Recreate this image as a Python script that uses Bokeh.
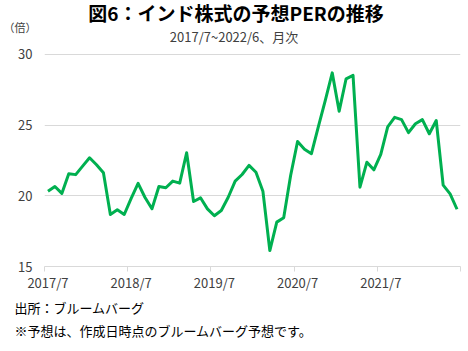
from bokeh.plotting import figure
from bokeh.models import FixedTicker, Label, Range1d, Title, LinearAxis
from bokeh.embed import file_html
from bokeh.resources import INLINE

# Monthly forward PER, 2017/7 .. 2022/6 (60 months)
per_values = [
    20.33, 20.66, 20.17, 21.56, 21.50, 22.10, 22.69, 22.20, 21.63, 18.68, 19.01, 18.68,
    19.82, 20.88, 19.88, 19.08, 20.66, 20.57, 21.04, 20.90, 23.05, 19.60, 19.86, 19.08,
    18.59, 18.96, 19.90, 21.04, 21.51, 22.15, 21.67, 20.33, 16.13, 18.14, 18.45, 21.44,
    23.84, 23.30, 22.98, 24.90, 26.75, 28.70, 25.99, 28.28, 28.52, 20.61, 22.38, 21.84,
    22.93, 24.88, 25.55, 25.39, 24.47, 25.10, 25.39, 24.39, 25.33, 20.76, 20.14, 19.05,
]
month_index = list(range(len(per_values)))
tick_labels = ["2017/7", "2018/7", "2019/7", "2020/7", "2021/7"]
tick_positions = [0, 12, 24, 36, 48]
y_ticks = [15, 20, 25, 30]

title_text = "図6：インド株式の予想PERの推移"
subtitle_text = "2017/7~2022/6、月次"
unit_text = "（倍）"
note1 = "出所：ブルームバーグ"
note2 = "※予想は、作成日時点のブルームバーグ予想です。"

FONT = "Noto Sans CJK JP"
GREEN = "#00B050"
GRID = "#D9D9D9"
TXT = "#404040"

# frame spans the whole top of the canvas so header texts sit inside it
Y_TOP = 33.82   # value at canvas top (30 sits at 54px, 15 at 266px)
p = figure(width=468, height=351, output_backend="svg", toolbar_location=None,
           x_range=Range1d(-0.5, 59.5), y_range=Range1d(15, Y_TOP),
           min_border_left=43, min_border_right=8, min_border_top=0, min_border_bottom=85)
p.outline_line_color = None
p.background_fill_color = "white"
p.border_fill_color = "white"

p.line(month_index, per_values, line_color=GREEN, line_width=3, line_join="round")

# x axis
xt = FixedTicker(ticks=tick_positions, minor_ticks=[-0.5 + 12 * k for k in range(6)])
p.xaxis.ticker = xt
p.xaxis.major_label_overrides = {pos: lab for pos, lab in zip(tick_positions, tick_labels)}
p.xaxis.axis_line_color = GRID
p.xaxis.major_tick_line_color = None
p.xaxis.major_tick_out = 0
p.xaxis.major_tick_in = 0
p.xaxis.minor_tick_line_color = GRID
p.xaxis.minor_tick_out = 5
p.xaxis.minor_tick_in = 0
p.xaxis.major_label_standoff = 1
p.xaxis.major_label_text_font = FONT
p.xaxis.major_label_text_font_size = "13px"
p.xaxis.major_label_text_color = TXT
p.xgrid.grid_line_color = None

# y axis
p.yaxis.ticker = FixedTicker(ticks=y_ticks)
p.yaxis.axis_line_color = None
p.yaxis.major_tick_line_color = None
p.yaxis.minor_tick_line_color = None
p.yaxis.major_tick_out = 0
p.yaxis.major_label_standoff = 12
p.yaxis.major_label_text_font = FONT
p.yaxis.major_label_text_font_size = "13px"
p.yaxis.major_label_text_color = TXT
p.ygrid.ticker = FixedTicker(ticks=y_ticks)
p.ygrid.grid_line_color = GRID
p.ygrid.grid_line_width = 1

# unit label as a second left axis
UNIT_POS = 31.98
unit_axis = LinearAxis(ticker=FixedTicker(ticks=[UNIT_POS]),
                       major_label_overrides={UNIT_POS: unit_text},
                       axis_line_color=None, major_tick_line_color=None,
                       minor_tick_line_color=None, major_tick_out=0,
                       major_label_standoff=-21, major_label_text_font=FONT,
                       major_label_text_font_size="11px", major_label_text_color=TXT)
p.add_layout(unit_axis, "left")

# header texts
p.add_layout(Label(x=27.13, y=32.97, text=title_text, text_align="center", text_baseline="middle",
                   text_font=FONT, text_font_size="19px", text_font_style="bold", text_color="#000000"))
p.add_layout(Label(x=26.84, y=31.25, text=subtitle_text, text_align="center", text_baseline="middle",
                   text_font=FONT, text_font_size="13px", text_color=TXT))

# footnotes
for t, so in ((note1, 2), (note2, 2)):
    p.add_layout(Title(text=t, align="left", text_font=FONT, text_font_size="13px",
                       text_font_style="normal", text_color="#000000", offset=-30, standoff=so), "below")

open("out.html", "w").write(file_html(p, INLINE))
